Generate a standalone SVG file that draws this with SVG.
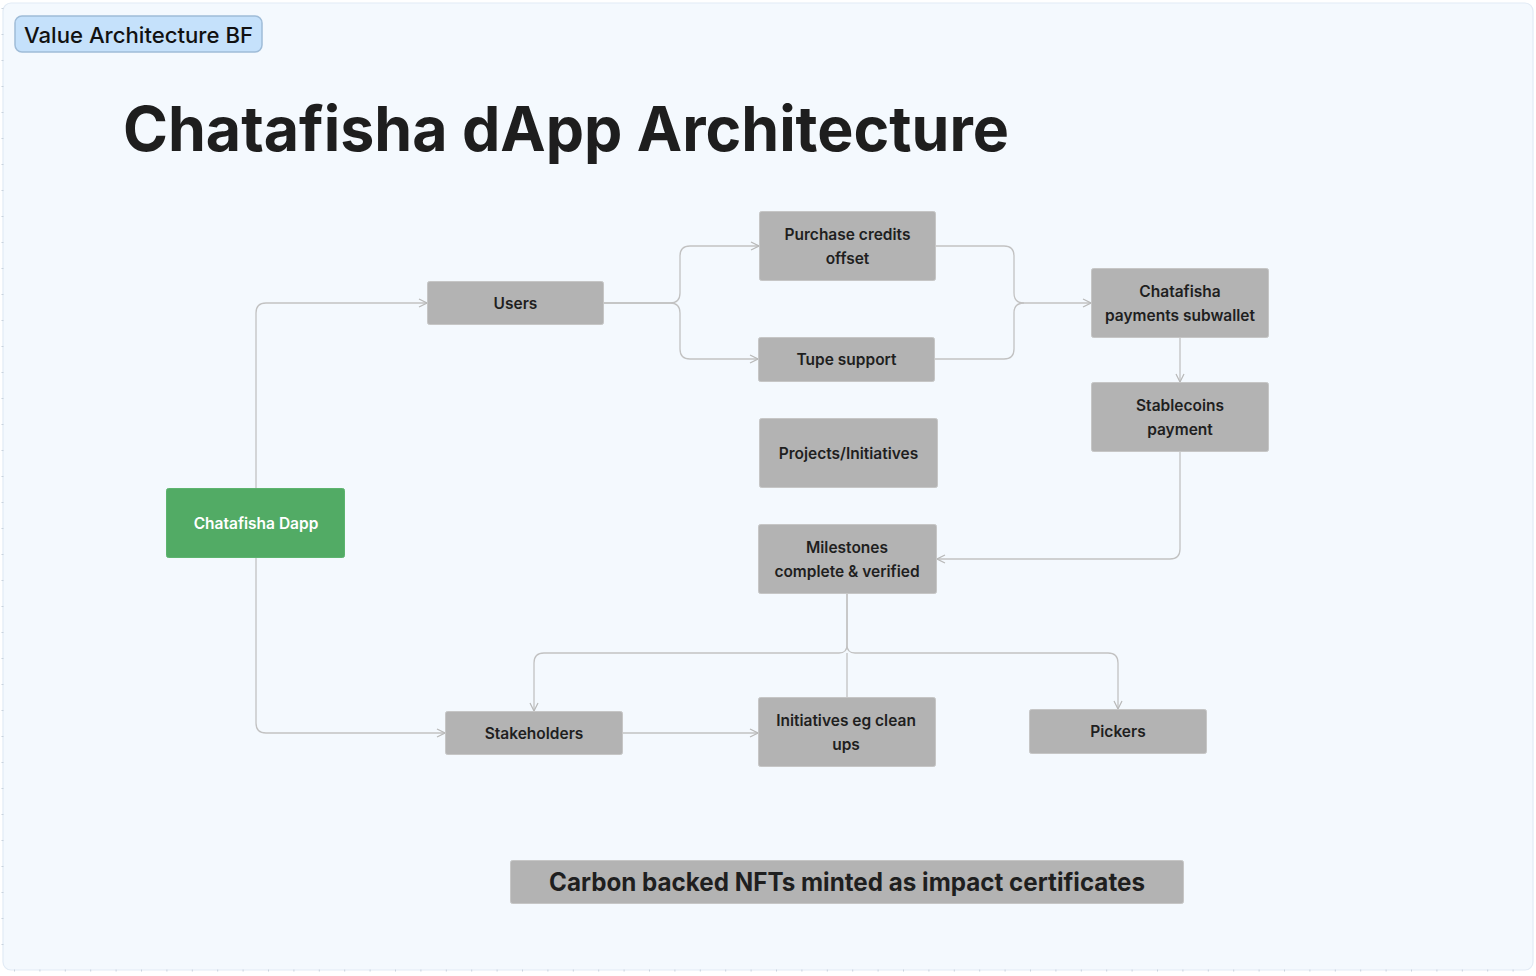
<svg xmlns="http://www.w3.org/2000/svg" width="1536" height="976" viewBox="0 0 1536 976">
<style>
.node rect{fill:#b3b3b3;stroke:#c6c6c6;stroke-width:1}
.node text{font-family:Inter,"Liberation Sans",sans-serif;font-weight:600;font-size:15.5px;fill:#1f1f1f;text-anchor:middle}
.conn path{fill:none;stroke:#c2c2c2;stroke-width:1.3}
</style>
<defs>
<marker id="arr" viewBox="0 0 10 10" refX="9" refY="5" markerWidth="10" markerHeight="10" markerUnits="userSpaceOnUse" orient="auto">
<path d="M1 1 L9 5 L1 9" fill="none" stroke="#b8b8b8" stroke-width="1.2"/>
</marker>
</defs>
<rect x="0" y="0" width="1536" height="976" fill="#ffffff"/>
<rect x="3" y="3" width="1530" height="967" rx="8" fill="#f4f9fe" stroke="#e2ebf5" stroke-width="1.2"/>
<line x1="14" y1="970.5" x2="1530" y2="970.5" stroke="#c9d3de" stroke-width="2" stroke-dasharray="1 24.4"/>
<line x1="2.5" y1="8" x2="2.5" y2="965" stroke="#c9d3de" stroke-width="2" stroke-dasharray="1 25"/>

<g id="label-value-architecture">
<rect x="15" y="16" width="247" height="36" rx="7" fill="#c5e1fb" stroke="#9fbcd8" stroke-width="1.5"/>
<text x="24" y="43" font-family="Inter,'Liberation Sans',sans-serif" font-weight="500" font-size="22" fill="#111" textLength="229" lengthAdjust="spacingAndGlyphs">Value Architecture BF</text>
</g>

<g id="title">
<text x="123" y="151" font-family="Inter,'Liberation Sans',sans-serif" font-weight="700" font-size="62" fill="#1e1e1e" textLength="886" lengthAdjust="spacingAndGlyphs">Chatafisha dApp Architecture</text>
</g>

<g class="conn" id="connectors">
<path d="M256 488 V313 Q256 303 266 303 H427" marker-end="url(#arr)"/>
<path d="M256 557 V723 Q256 733 266 733 H445" marker-end="url(#arr)"/>
<path d="M604 303 H670 Q680 303 680 293 V256 Q680 246 690 246 H759" marker-end="url(#arr)"/>
<path d="M604 303 H670 Q680 303 680 313 V349 Q680 359 690 359 H758" marker-end="url(#arr)"/>
<path d="M936 246 H1004 Q1014 246 1014 256 V293 Q1014 303 1024 303 H1091" marker-end="url(#arr)"/>
<path d="M935 359 H1004 Q1014 359 1014 349 V313 Q1014 303 1024 303"/>
<path d="M1180 337 V382" marker-end="url(#arr)"/>
<path d="M1180 451 V549 Q1180 559 1170 559 H937" marker-end="url(#arr)"/>
<path d="M847 594 V645 Q847 653 839 653 H544 Q534 653 534 663 V711" marker-end="url(#arr)"/>
<path d="M847 594 V645 Q847 653 855 653 H1108 Q1118 653 1118 663 V709" marker-end="url(#arr)"/>
<path d="M847 697 V653"/>
<path d="M623 733 H758" marker-end="url(#arr)"/>
</g>

<g class="node" id="node-dapp">
<rect x="166.5" y="488.5" width="178" height="69" rx="2" style="fill:#52ab65;stroke:#5db46f"/>
<text x="256" y="529" style="fill:#ffffff">Chatafisha Dapp</text>
</g>
<g class="node" id="node-users">
<rect x="427.5" y="281.5" width="176" height="43" rx="2"/>
<text x="515.5" y="309">Users</text>
</g>
<g class="node" id="node-purchase">
<rect x="759.5" y="211.5" width="176" height="69" rx="2"/>
<text x="847.5" y="240">Purchase credits</text>
<text x="847.5" y="264">offset</text>
</g>
<g class="node" id="node-tupe">
<rect x="758.5" y="337.5" width="176" height="44" rx="2"/>
<text x="846.5" y="365">Tupe support</text>
</g>
<g class="node" id="node-subwallet">
<rect x="1091.5" y="268.5" width="177" height="69" rx="2"/>
<text x="1180" y="297">Chatafisha</text>
<text x="1180" y="321">payments subwallet</text>
</g>
<g class="node" id="node-stablecoins">
<rect x="1091.5" y="382.5" width="177" height="69" rx="2"/>
<text x="1180" y="411">Stablecoins</text>
<text x="1180" y="435">payment</text>
</g>
<g class="node" id="node-projects">
<rect x="759.5" y="418.5" width="178" height="69" rx="2"/>
<text x="848.5" y="459">Projects/Initiatives</text>
</g>
<g class="node" id="node-milestones">
<rect x="758.5" y="524.5" width="178" height="69" rx="2"/>
<text x="847" y="553">Milestones</text>
<text x="847" y="577">complete &amp; verified</text>
</g>
<g class="node" id="node-stakeholders">
<rect x="445.5" y="711.5" width="177" height="43" rx="2"/>
<text x="534" y="739">Stakeholders</text>
</g>
<g class="node" id="node-initiatives">
<rect x="758.5" y="697.5" width="177" height="69" rx="2"/>
<text x="846" y="726">Initiatives eg clean</text>
<text x="846" y="750">ups</text>
</g>
<g class="node" id="node-pickers">
<rect x="1029.5" y="709.5" width="177" height="44" rx="2"/>
<text x="1118" y="737">Pickers</text>
</g>
<g class="node" id="node-carbon">
<rect x="510.5" y="860.5" width="673" height="43" rx="2"/>
<text x="847" y="891" style="font-size:25px;font-weight:700" textLength="596" lengthAdjust="spacingAndGlyphs">Carbon backed NFTs minted as impact certificates</text>
</g>
</svg>
